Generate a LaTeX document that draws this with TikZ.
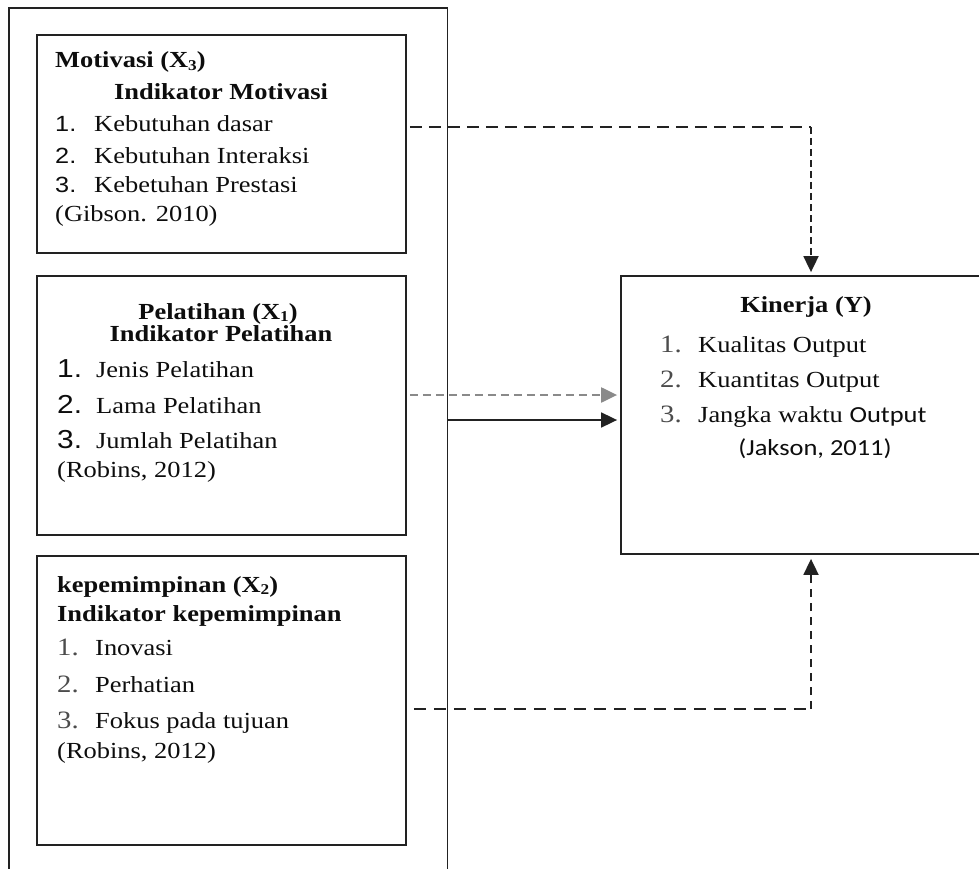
\documentclass[tikz,border=0pt]{standalone}
\usepackage{fontspec}
\setmainfont[FakeStretch=1.15]{Liberation Serif}
\newfontfamily\arfont[FakeStretch=1.15]{Liberation Sans}
\newfontfamily\califont[FakeStretch=1.15]{Carlito}
\usetikzlibrary{arrows.meta}
\newcommand{\sbx}[1]{\raisebox{-0.2ex}{\fontsize{15}{15}\selectfont #1}}
\definecolor{ink}{HTML}{222222}
\definecolor{lgray}{HTML}{8A8A8A}
\begin{document}
\begin{tikzpicture}[x=1pt,y=-1pt,
  box/.style={draw=ink, line width=1.8pt, inner sep=0pt},
  txt/.style={anchor=base west, inner sep=0pt, font=\fontsize{23}{28}\selectfont, text=black!95},
  ctxt/.style={txt, anchor=base},
  anum/.style={txt, font=\arfont\fontsize{22}{26}\selectfont},
  bnum/.style={txt, font=\arfont\fontsize{26}{30}\selectfont},
  snum/.style={txt, font=\fontsize{25}{30}\selectfont, text=black!70},
  conn/.style={draw=ink, line width=1.8pt},
  tip/.style={-{Triangle[length=16pt,width=15pt]}}
]
\useasboundingbox (0,0) rectangle (979,869);
\clip (0,0) rectangle (979,869);

% frames
\node[minimum width=438pt, minimum height=900pt, inner sep=0pt, anchor=north west] (outer) at (9,8) {};
\draw[conn] (outer.south west) |- (outer.north east) -- (outer.south east);
\node[box, minimum width=369pt, minimum height=218pt] (bm) at (221.5,144) {};
\node[box, minimum width=369pt, minimum height=259pt] (bp) at (221.5,405.5) {};
\node[box, minimum width=369pt, minimum height=289pt] (bk) at (221.5,700.5) {};
\node[box, minimum width=380pt, minimum height=278pt] (kin) at (811,415) {};

% box 1
\node[txt] (m1) at (55,68) {\textbf{Motivasi (X\sbx{3})}};
\node[ctxt] (m2) at (221,100) {\textbf{Indikator Motivasi}};
\node[anum] (m3n) at (55,132) {1.};
\node[txt] (m3) at (94,132) {Kebutuhan dasar};
\node[anum] (m4n) at (55,164) {2.};
\node[txt] (m4) at (94,164) {Kebutuhan Interaksi};
\node[anum] (m5n) at (55,193) {3.};
\node[txt] (m5) at (94,193) {Kebetuhan Prestasi};
\node[txt] (m6) at (55,222) {(Gibson. 2010)};

% box 2
\node[ctxt] (p1) at (218,319) {\textbf{Pelatihan (X\sbx{1})}};
\node[ctxt] (p2) at (221,341) {\textbf{Indikator Pelatihan}};
\node[bnum] (p3n) at (57,377) {1.};
\node[txt] (p3) at (96,377) {Jenis Pelatihan};
\node[bnum] (p4n) at (57,413) {2.};
\node[txt] (p4) at (96,413) {Lama Pelatihan};
\node[bnum] (p5n) at (57,448) {3.};
\node[txt] (p5) at (96,448) {Jumlah Pelatihan};
\node[txt] (p6) at (57,477) {(Robins, 2012)};

% box 3
\node[txt] (k1) at (57,592) {\textbf{kepemimpinan (X\sbx{2})}};
\node[txt] (k2) at (57,621) {\textbf{Indikator kepemimpinan}};
\node[snum] (k3n) at (57,655) {1.};
\node[txt] (k3) at (95,655) {Inovasi};
\node[snum] (k4n) at (57,692) {2.};
\node[txt] (k4) at (95,692) {Perhatian};
\node[snum] (k5n) at (57,728) {3.};
\node[txt] (k5) at (95,728) {Fokus pada tujuan};
\node[txt] (k6) at (57,758) {(Robins, 2012)};

% Kinerja
\node[ctxt] (y1) at (806,312) {\textbf{Kinerja (Y)}};
\node[snum] (y2n) at (660,352) {1.};
\node[txt] (y2) at (698,352) {Kualitas Output};
\node[snum] (y3n) at (660,387) {2.};
\node[txt] (y3) at (698,387) {Kuantitas Output};
\node[snum] (y4n) at (660,422) {3.};
\node[txt] (y4) at (698,422) {Jangka waktu {\califont Output}};
\node[ctxt, font=\califont\fontsize{23}{28}\selectfont] (y5) at (815,455) {(Jakson, 2011)};

% connectors
\coordinate (c1) at (811,127);
\coordinate (c2) at (0,395);
\coordinate (c3) at (0,420);
\coordinate (c4) at (811,709);
\draw[conn, dash pattern=on 12pt off 7pt, shorten <=3pt] (bm.east |- c1) -- (c1);
\draw[conn, dash pattern=on 7pt off 4pt, tip, shorten >=3pt] (c1) -- (kin.north);
\draw[conn, draw=lgray, line width=2.2pt, dash pattern=on 8pt off 5pt, tip, shorten <=3pt, shorten >=3pt] (bp.east |- c2) -- (kin.west |- c2);
\draw[conn, tip, shorten >=3pt] (outer.east |- c3) -- (kin.west |- c3);
\draw[conn, dash pattern=on 12pt off 8pt, shorten <=7pt] (bk.east |- c4) -- (c4);
\draw[conn, dash pattern=on 8pt off 6pt, tip, shorten >=4pt] (c4) -- (kin.south);
\end{tikzpicture}
\end{document}
